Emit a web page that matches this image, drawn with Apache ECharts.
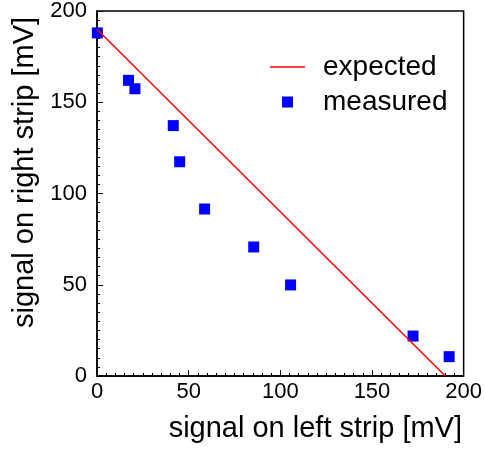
<!DOCTYPE html>
<html>
<head>
<meta charset="utf-8">
<script src="https://cdn.jsdelivr.net/npm/echarts@6/dist/echarts.min.js"></script>
<style>html,body{margin:0;padding:0;background:#fff}#c{width:485px;height:451px}</style>
</head>
<body>
<div id="c"></div>
<script>
const expectedX = [0, 190];
const expectedY = [190, 0];
const measuredX = [0.2, 17.2, 20.7, 41.6, 45.1, 58.7, 85.5, 105.6, 172.4, 192.1];
const measuredY = [188, 162, 157.4, 137.2, 117.4, 91.5, 70.7, 49.9, 21.9, 10.6];
const xTicks = [0, 50, 100, 150, 200];
const yTicks = [0, 50, 100, 150, 200];
const xTitle = 'signal on left strip [mV]';
const yTitle = 'signal on right strip [mV]';

const FONT = 'Liberation Sans, Arial, sans-serif';
const chart = echarts.init(document.getElementById('c'), null, {renderer: 'canvas'});
const axisCommon = {
  min: xTicks[0], max: xTicks[xTicks.length - 1], interval: 50,
  axisLine: {show: true, lineStyle: {color: '#000', width: 1.5}},
  axisTick: {show: true, inside: true, length: 6, lineStyle: {color: '#000', width: 1}},
  minorTick: {show: true, splitNumber: 10, length: 3, lineStyle: {color: '#000', width: 1}},
  splitLine: {show: false}
};
chart.setOption({
  animation: false,
  backgroundColor: '#fff',
  grid: {left: 97, top: 11, right: 21, bottom: 75, show: true, borderColor: '#000', borderWidth: 1.5},
  legend: [
    {data: [{name: 'expected', icon: 'rect'}], left: 265, top: 48, itemWidth: 35, itemHeight: 1.5,
     textStyle: {fontFamily: FONT, fontSize: 28, color: '#000', padding: [0, 0, 0, 13]}},
    {data: [{name: 'measured', icon: 'rect'}], left: 277, top: 83, itemWidth: 11, itemHeight: 11,
     textStyle: {fontFamily: FONT, fontSize: 28, color: '#000', padding: [0, 0, 0, 25]}}
  ],
  xAxis: Object.assign({}, axisCommon, {
    type: 'value', name: xTitle, nameLocation: 'middle', nameGap: 38,
    nameTextStyle: {fontFamily: FONT, fontSize: 29, color: '#000', padding: [0, 0, 0, 70]},
    axisLabel: {fontFamily: FONT, fontSize: 22, color: '#000', margin: 5,
      formatter: v => xTicks.includes(v) ? String(v) : ''}
  }),
  yAxis: Object.assign({}, axisCommon, {
    type: 'value', name: yTitle, nameLocation: 'middle', nameGap: 56, nameRotate: 90,
    min: yTicks[0], max: yTicks[yTicks.length - 1],
    nameTextStyle: {fontFamily: FONT, fontSize: 29, color: '#000', padding: [0, 0, 0, 42]},
    axisLabel: {fontFamily: FONT, fontSize: 22, color: '#000', margin: 10, padding: [5, 0, 0, 0],
      formatter: v => yTicks.includes(v) ? String(v) : ''}
  }),
  series: [
    {name: 'measured', type: 'scatter', symbol: 'rect', symbolSize: 11, clip: true,
     itemStyle: {color: '#0000ff', opacity: 1}, z: 2,
     data: measuredX.map((x, i) => [x, measuredY[i]])},
    {name: 'expected', type: 'line', symbol: 'none', clip: true, z: 3,
     lineStyle: {color: '#ff0000', width: 1.5}, itemStyle: {color: '#ff0000'},
     data: expectedX.map((x, i) => [x, expectedY[i]])}
  ]
});
</script>
</body>
</html>
